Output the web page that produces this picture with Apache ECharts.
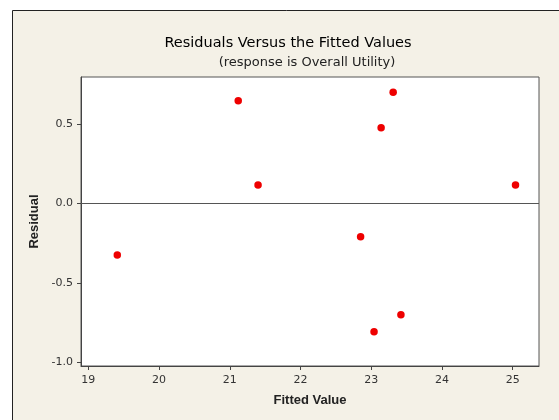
<!DOCTYPE html>
<html>
<head>
<meta charset="utf-8">
<script src="https://cdn.jsdelivr.net/npm/echarts@6/dist/echarts.min.js"></script>
<style>
html,body{margin:0;padding:0;background:#ffffff;}
#chart{width:559px;height:420px;}
</style>
</head>
<body>
<div id="chart"></div>
<script>
// Data
const fittedValues = [19.41, 21.12, 21.40, 22.85, 23.14, 23.31, 23.04, 23.42, 25.04];
const residuals    = [-0.325, 0.646, 0.116, -0.209, 0.476, 0.700, -0.807, -0.700, 0.116];
const xTicks = [19, 20, 21, 22, 23, 24, 25];
const yTicks = [-1.0, -0.5, 0.0, 0.5];

const points = fittedValues.map((x, i) => [x, residuals[i]]);
const font = 'DejaVu Sans';
const boldFont = 'Liberation Sans';

const chart = echarts.init(document.getElementById('chart'), null, {renderer: 'canvas'});
chart.setOption({
  animation: false,
  backgroundColor: '#ffffff',
  graphic: [{
    type: 'rect',
    z: -10,
    shape: {x: 12.5, y: 10.5, width: 600, height: 500},
    style: {fill: '#f4f1e7', stroke: '#222222', lineWidth: 1}
  }],
  title: [{
    text: 'Residuals Versus the Fitted Values',
    left: 283, textAlign: 'center', top: 31,
    textStyle: {fontFamily: font, fontSize: 14.5, fontWeight: 'normal', color: '#000000'}
  }, {
    text: '(response is Overall Utility)',
    left: 302, textAlign: 'center', top: 51,
    textStyle: {fontFamily: font, fontSize: 13, fontWeight: 'normal', color: '#222222'}
  }],
  grid: {
    left: 81, top: 77, right: 20, bottom: 54,
    show: true, backgroundColor: '#ffffff', borderColor: '#555555', borderWidth: 1
  },
  xAxis: {
    type: 'value', min: 18.897, max: 25.372,
    name: 'Fitted Value', nameLocation: 'middle', nameGap: 28,
    nameTextStyle: {fontFamily: boldFont, fontSize: 13, fontWeight: 'bold', color: '#222222'},
    axisLine: {show: true, onZero: false, lineStyle: {color: '#444444', width: 1}},
    axisTick: {show: true, length: 4, customValues: xTicks, lineStyle: {color: '#444444'}},
    axisLabel: {customValues: xTicks, margin: 9, fontFamily: font, fontSize: 11, color: '#333333',
      formatter: v => String(Math.round(v))},
    splitLine: {show: false}
  },
  yAxis: {
    type: 'value', min: -1.023, max: 0.796,
    name: 'Residual', nameLocation: 'middle', nameGap: 38, nameRotate: 90,
    nameTextStyle: {fontFamily: boldFont, fontSize: 13, fontWeight: 'bold', color: '#222222'},
    axisLine: {show: true, onZero: false, lineStyle: {color: '#444444', width: 1}},
    axisTick: {show: true, length: 4, customValues: yTicks, lineStyle: {color: '#444444'}},
    axisLabel: {customValues: yTicks, margin: 8, fontFamily: font, fontSize: 11, color: '#333333',
      formatter: v => v.toFixed(1)},
    splitLine: {show: false}
  },
  series: [{
    type: 'scatter',
    data: points,
    symbol: 'circle',
    symbolSize: 7.5,
    itemStyle: {color: '#ee0000', opacity: 1},
    markLine: {
      silent: true,
      symbol: ['none', 'none'],
      label: {show: false},
      lineStyle: {color: '#555555', width: 1, type: 'solid'},
      data: [{yAxis: 0}]
    }
  }]
});
</script>
</body>
</html>
